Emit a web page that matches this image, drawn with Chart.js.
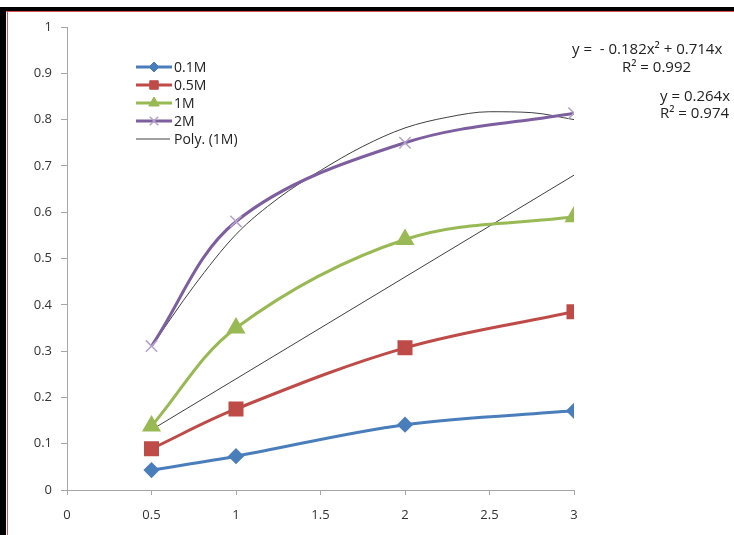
<!DOCTYPE html>
<html>
<head>
<meta charset="utf-8">
<script src="https://cdn.jsdelivr.net/npm/chart.js@4.4.1/dist/chart.umd.min.js"></script>
<style>
  html, body { margin: 0; padding: 0; background: #fff; }
  #grafico { display: block; }
</style>
</head>
<body>
<canvas id="grafico" width="734" height="535"></canvas>
<script>
/**********************************************
 *
 * Curvas por concentracion + lineas de tendencia
 *
 * ****************************************/

var xs = [0.5, 1, 2, 3];
var m01 = [0.043, 0.073, 0.141, 0.171];
var m05 = [0.089, 0.175, 0.307, 0.385];
var m1  = [0.138, 0.350, 0.541, 0.590];
var m2  = [0.311, 0.580, 0.750, 0.814];

// tendencia polinomica
var polyX = [0.5, 0.75, 1, 1.25, 1.5, 1.75, 2, 2.25, 2.5, 2.75, 3];
var polyY = [0.31, 0.44, 0.552, 0.63, 0.69, 0.742, 0.782, 0.805, 0.817, 0.815, 0.80];
// tendencia lineal
var linX = [0.5, 3];
var linY = [0.13, 0.68];

var xTicks = [0, 0.5, 1, 1.5, 2, 2.5, 3];
var nombres = ['0.1M', '0.5M', '1M', '2M', 'Poly. (1M)'];

function pares(a, b) {
  return a.map(function (v, i) { return { x: v, y: b[i] }; });
}

var fuente = '"Open Sans", "DejaVu Sans", sans-serif';

// leyenda, ecuaciones y marco dibujados a mano, como en Excel
var extras = {
  id: 'extras',
  beforeDraw: function (chart) {
    var ctx = chart.ctx;
    ctx.save();
    ctx.fillStyle = '#fff';
    ctx.fillRect(0, 0, chart.width, chart.height);
    ctx.restore();
  },
  afterDraw: function (chart) {
    var ctx = chart.ctx;
    ctx.save();
    var items = chart.data.datasets.slice(0, 4).concat([chart.data.datasets[5]]);
    var ys = [67, 85, 103, 121, 139];
    var radios = [5, 6, 6, 6];
    items.forEach(function (ds, i) {
      var y = ys[i];
      ctx.strokeStyle = ds.borderColor;
      ctx.lineWidth = i < 4 ? 3 : 1;
      ctx.beginPath();
      ctx.moveTo(136, y);
      ctx.lineTo(i < 4 ? 172 : 170, y);
      ctx.stroke();
      if (i < 4) {
        ctx.fillStyle = ds.pointBackgroundColor;
        ctx.strokeStyle = ds.pointBorderColor;
        ctx.lineWidth = ds.pointBorderWidth || 1;
        Chart.helpers.drawPoint(ctx, {
          pointStyle: ds.pointStyle,
          radius: radios[i],
          borderWidth: ds.pointBorderWidth || 1
        }, 154, y);
      }
      ctx.fillStyle = '#222';
      ctx.font = '14px ' + fuente;
      ctx.textBaseline = 'middle';
      ctx.textAlign = 'left';
      ctx.fillText(nombres[i], 174, y + 1);
    });

    ctx.fillStyle = '#222';
    ctx.font = '15px ' + fuente;
    ctx.textBaseline = 'middle';
    ctx.textAlign = 'left';
    ctx.fillText('y =  - 0.182x\u00b2 + 0.714x', 572, 50);
    ctx.fillText('R\u00b2 = 0.992', 622, 68);
    ctx.fillText('y = 0.264x', 660, 97);
    ctx.fillText('R\u00b2 = 0.974', 660, 114);

    // marco
    ctx.fillStyle = '#000';
    ctx.fillRect(0, 7, chart.width, 4);
    ctx.fillRect(0, 7, 6, chart.height - 7);
    ctx.fillStyle = '#d9534f';
    ctx.fillRect(6, 11, chart.width - 6, 1);
    ctx.fillRect(7, 11, 1, chart.height - 11);
    ctx.restore();
  }
};

var ctx = document.getElementById('grafico').getContext('2d');

var chart = new Chart(ctx, {
  type: 'line',
  data: {
    datasets: [{
      label: nombres[0],
      data: pares(xs, m01),
      borderColor: '#4a7ebb',
      backgroundColor: '#4a7ebb',
      pointBackgroundColor: '#4a7ebb',
      pointBorderColor: '#4a7ebb',
      pointStyle: 'rectRot',
      pointRadius: 6,
      borderWidth: 3,
      tension: 0.35
    }, {
      label: nombres[1],
      data: pares(xs, m05),
      borderColor: '#be4b48',
      backgroundColor: '#be4b48',
      pointBackgroundColor: '#be4b48',
      pointBorderColor: '#be4b48',
      pointStyle: 'rect',
      pointRadius: 8.5,
      borderWidth: 3,
      tension: 0.35
    }, {
      label: nombres[2],
      data: pares(xs, m1),
      borderColor: '#98b954',
      backgroundColor: '#98b954',
      pointBackgroundColor: '#98b954',
      pointBorderColor: '#98b954',
      pointStyle: 'triangle',
      pointRadius: 8,
      borderWidth: 3,
      tension: 0.35
    }, {
      label: nombres[3],
      data: pares(xs, m2),
      borderColor: '#7d5fa0',
      backgroundColor: '#7d5fa0',
      pointBackgroundColor: '#b3a2c7',
      pointBorderColor: '#b3a2c7',
      pointBorderWidth: 1.5,
      pointStyle: 'crossRot',
      pointRadius: 8,
      borderWidth: 3,
      tension: 0.35
    }, {
      label: 'Linear',
      data: pares(linX, linY),
      borderColor: '#404040',
      borderWidth: 1,
      pointRadius: 0,
      tension: 0
    }, {
      label: nombres[4],
      data: pares(polyX, polyY),
      borderColor: '#404040',
      borderWidth: 1,
      pointRadius: 0,
      cubicInterpolationMode: 'monotone'
    }]
  },
  options: {
    responsive: false,
    animation: false,
    layout: { padding: { left: 0, right: 160, top: 27, bottom: 0 } },
    plugins: {
      legend: { display: false },
      tooltip: { enabled: false }
    },
    scales: {
      x: {
        type: 'linear',
        min: 0,
        max: 3,
        afterFit: function (s) { s.height = 45; },
        afterBuildTicks: function (s) {
          s.ticks = xTicks.map(function (v) { return { value: v }; });
        },
        border: { color: '#a6a6a6', width: 1 },
        grid: { drawOnChartArea: false, color: '#a6a6a6', tickLength: 5 },
        ticks: {
          color: '#333',
          font: { family: fuente, size: 13 },
          padding: 12,
          maxRotation: 0,
          callback: function (v) { return String(v); }
        }
      },
      y: {
        min: 0,
        max: 1,
        afterFit: function (s) { s.width = 67; },
        border: { color: '#a6a6a6', width: 1 },
        grid: { drawOnChartArea: false, color: '#a6a6a6', tickLength: 6 },
        ticks: {
          stepSize: 0.1,
          color: '#333',
          font: { family: fuente, size: 13 },
          padding: 9,
          callback: function (v) { return String(Math.round(v * 10) / 10); }
        }
      }
    }
  },
  plugins: [extras]
});
</script>
</body>
</html>
